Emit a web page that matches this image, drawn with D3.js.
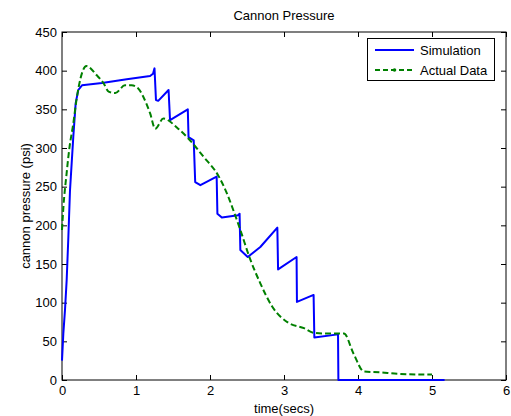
<!DOCTYPE html>
<html><head><meta charset="utf-8">
<script src="https://cdn.jsdelivr.net/npm/d3@7"></script>
<style>body{margin:0;background:#fff}svg{display:block}</style>
</head><body>
<svg id="c" width="511" height="416"></svg>
<script>
const xTicks = [0,1,2,3,4,5,6];
const yTicks = [0,50,100,150,200,250,300,350,400,450];
const seriesNames = ["Simulation","Actual Data"];

const simTime = [0,0.018,0.04,0.063,0.086,0.108,0.153,0.185,0.22,0.27,0.54,0.875,1.19,1.23,1.25,1.27,1.30,1.44,1.46,1.70,1.71,1.78,1.80,1.87,2.09,2.10,2.16,2.38,2.40,2.41,2.51,2.68,2.91,2.92,3.17,3.175,3.40,3.41,3.73,3.735,5.17];
const simPressure = [25,60,90,129,185,245,315,358,375,381,384,389,393,396,403,362,361,375,336,350,314,310,256,252,263,215,210,213,215,168,159,172,197,143,159,101,110,55,59,0,0];

const actTime = [0,0.02,0.06,0.1,0.15,0.2,0.25,0.33,0.47,0.56,0.63,0.72,0.85,0.94,1.03,1.1,1.19,1.26,1.37,1.57,1.71,1.91,2.12,2.23,2.34,2.41,2.54,2.68,2.84,3.06,3.27,3.40,3.58,3.81,3.94,4.08,4.30,4.53,4.98,5.0];
const actPressure = [194,225,265,300,330,365,390,406,394,384,373,371,381,381,377,366,345,325,338,325,312,289,263,241,213,194,157,125,95,74,67,61,60,60,34,11,10,8,7,7];

const W = 511, H = 416;
const m = {l:62, r:5, t:32, b:36};
const svg = d3.select("#c");
const font = "Liberation Sans, Arial, sans-serif";

const x = d3.scaleLinear().domain([0,6]).range([m.l, W-m.r]);
const y = d3.scaleLinear().domain([0,450]).range([H-m.b, m.t]);

// title
svg.append("text").attr("x",(m.l+W-m.r)/2).attr("y",20).attr("text-anchor","middle")
  .attr("font-family",font).attr("font-size",13).text("Cannon Pressure");

// axes
const gx = svg.append("g").attr("transform",`translate(0,${H-m.b})`)
  .call(d3.axisBottom(x).tickValues(xTicks).tickFormat(d3.format("d")).tickSizeInner(-5).tickSizeOuter(0).tickPadding(6));
const gxt = svg.append("g").attr("transform",`translate(0,${m.t})`)
  .call(d3.axisTop(x).tickValues(xTicks).tickFormat("").tickSizeInner(-5).tickSizeOuter(0));
const gy = svg.append("g").attr("transform",`translate(${m.l},0)`)
  .call(d3.axisLeft(y).tickValues(yTicks).tickFormat(d3.format("d")).tickSizeInner(-5).tickSizeOuter(0).tickPadding(5));
const gyr = svg.append("g").attr("transform",`translate(${W-m.r},0)`)
  .call(d3.axisRight(y).tickValues(yTicks).tickFormat("").tickSizeInner(-5).tickSizeOuter(0));
[gx,gxt,gy,gyr].forEach(g=>{
  g.select(".domain").remove();
  g.selectAll("line").attr("stroke","#000");
  g.selectAll("text").attr("font-family",font).attr("font-size",13).attr("fill","#000");
});

// box
svg.append("rect").attr("x",m.l).attr("y",m.t).attr("width",W-m.r-m.l).attr("height",H-m.b-m.t)
  .attr("fill","none").attr("stroke","#000").attr("stroke-width",1);

// labels
svg.append("text").attr("x",(m.l+W-m.r)/2).attr("y",413).attr("text-anchor","middle")
  .attr("font-family",font).attr("font-size",13).text("time(secs)");
svg.append("text").attr("transform",`translate(25,${(m.t+H-m.b)/2}) rotate(-90)`).attr("text-anchor","middle")
  .attr("dy","0.35em").attr("font-family",font).attr("font-size",13).text("cannon pressure (psi)");

// lines
const line = d3.line().x(d=>x(d[0])).y(d=>y(d[1]));
const simData = simTime.map((t,i)=>[t,simPressure[i]]);
const actData = actTime.map((t,i)=>[t,actPressure[i]]);

svg.append("path").datum(simData).attr("d",line).attr("fill","none")
  .attr("stroke","#0000ff").attr("stroke-width",2).attr("stroke-linejoin","round");
svg.append("path").datum(actData).attr("d",line.curve(d3.curveMonotoneX)).attr("fill","none")
  .attr("stroke","#008000").attr("stroke-width",2).attr("stroke-dasharray","6,3");

// legend
const lg = svg.append("g");
lg.append("rect").attr("x",367.5).attr("y",38.5).attr("width",127).attr("height",42)
  .attr("fill","#fff").attr("stroke","#000");
lg.append("line").attr("x1",375).attr("x2",414).attr("y1",50).attr("y2",50)
  .attr("stroke","#0000ff").attr("stroke-width",2);
lg.append("line").attr("x1",375).attr("x2",414).attr("y1",70).attr("y2",70)
  .attr("stroke","#008000").attr("stroke-width",2).attr("stroke-dasharray","5,3");
lg.append("circle").attr("cx",394.5).attr("cy",70).attr("r",1.8).attr("fill","#008000");
lg.selectAll("text.lt").data(seriesNames).join("text").attr("class","lt")
  .attr("x",420).attr("y",(d,i)=>50+i*20).attr("dy","0.35em")
  .attr("font-family",font).attr("font-size",13).text(d=>d);
</script>
</body></html>
